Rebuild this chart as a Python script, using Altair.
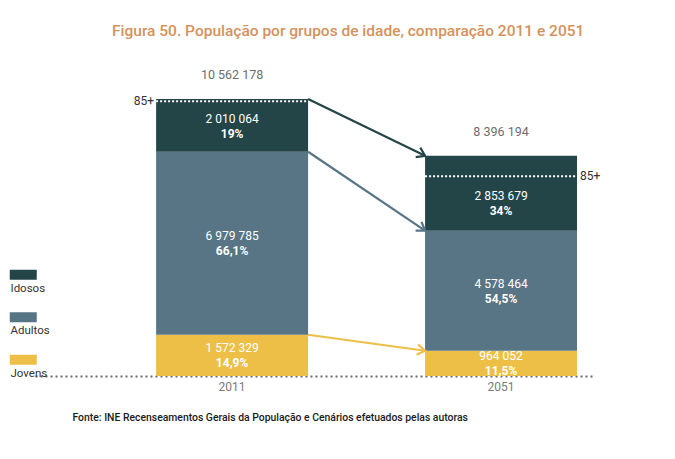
import math
import altair as alt
import pandas as pd

# ---------------- data ----------------
years = ["2011", "2051"]
groups = ["Idosos", "Adultos", "Jovens"]          # legend order, top to bottom
stack_order = {"Jovens": 0, "Adultos": 1, "Idosos": 2}
values_2011 = [2010064, 6979785, 1572329]
values_2051 = [2853679, 4578464, 964052]
pct_2011 = ["19%", "66,1%", "14,9%"]
pct_2051 = ["34%", "54,5%", "11,5%"]
totals = [10562178, 8396194]
line_85 = [10480000, 7620000]                     # level of the dotted "85+" line
colors = ["#244547", "#577585", "#EDBF47"]

TITLE = "Figura 50. População por grupos de idade, comparação 2011 e 2051"
SOURCE = "Fonte: INE Recenseamentos Gerais da População e Cenários efetuados pelas autoras"

FONT = "Roboto"

# ---------------- layout ----------------
W, H = 557, 277
PAD_L, PAD_T = 35, 99
P_IN, P_OUT, ALIGN = 0.435, 0.253, 0.89
YMAX = totals[0]


def fmt(v):
    return f"{v:,}".replace(",", " ")


rows = []
for k, (yr, vals, pcts) in enumerate([(years[0], values_2011, pct_2011),
                                      (years[1], values_2051, pct_2051)]):
    cum = 0
    for g in sorted(groups, key=lambda s: stack_order[s]):
        i = groups.index(g)
        v = vals[i]
        # the oldest group's label sits in the part below the "85+" line
        mid = (cum + line_85[k]) / 2 if g == "Idosos" else cum + v / 2
        rows.append(dict(year=yr, group=g, value=v, order=stack_order[g],
                         top=cum + v, mid=mid, num=fmt(v), pct=pcts[i]))
        cum += v
df = pd.DataFrame(rows)

tot_df = pd.DataFrame({"year": years, "total": totals, "label": [fmt(t) for t in totals]})
l85_df = pd.DataFrame({"year": years, "y": line_85, "label": ["85+", "85+"]})

# arrows from top of each segment in 2011 to top of the same segment in 2051
step = W / (2 - P_IN + 2 * P_OUT)
gap_px = step * P_IN
arr = []
for g in groups:
    a = df[(df.year == years[0]) & (df.group == g)].top.iloc[0]
    b = df[(df.year == years[1]) & (df.group == g)].top.iloc[0]
    dy_px = (a - b) * H / YMAX
    arr.append(dict(group=g, start=years[0], end=years[1], y0=a, y1=b,
                    angle=(math.degrees(math.atan2(dy_px, gap_px)) % 360)))
arr_df = pd.DataFrame(arr)

# ---------------- scales / axes ----------------
xscale = alt.Scale(domain=years, paddingInner=P_IN, paddingOuter=P_OUT, align=ALIGN)
yscale = alt.Scale(domain=[0, YMAX], nice=False, zero=True)
cscale = alt.Scale(domain=groups, range=colors)
xaxis = alt.Axis(title=SOURCE, labelAngle=0, labelColor="#7a7a7a", labelFontSize=12,
                 labelFont=FONT, labelPadding=5, ticks=False,
                 domainColor="#6b6b6b", domainWidth=2, domainDash=[2, 3],
                 titleX=37, titleY=41, titleAlign="left", titleBaseline="middle",
                 titleFont=FONT, titleFontSize=10.4, titleFontWeight=500, titleColor="#1a1a1a")

legend_symbol = "M1,-3.8 L6.4,-3.8 L6.4,-1.8 L1,-1.8 Z"

bars = alt.Chart(df).mark_bar(stroke=None).encode(
    x=alt.X("year:N", scale=xscale, axis=xaxis),
    y=alt.Y("value:Q", stack="zero", scale=yscale, axis=None),
    color=alt.Color("group:N", scale=cscale,
                    legend=alt.Legend(title=None, orient="none", legendX=-36, legendY=184,
                                      symbolType=legend_symbol, symbolSize=100,
                                      symbolStrokeWidth=0, labelOffset=0,
                                      labelFont=FONT, labelFontSize=11.5, labelColor="#333333",
                                      rowPadding=16.5, padding=0)),
    order=alt.Order("order:Q", sort="ascending"),
)

num_text = alt.Chart(df).mark_text(color="white", fontSize=12, font=FONT, dy=-7).encode(
    x=alt.X("year:N", scale=xscale, axis=xaxis),
    y=alt.Y("mid:Q", scale=yscale, axis=None),
    text="num:N",
)
pct_text = alt.Chart(df).mark_text(color="white", fontSize=12, font=FONT,
                                   fontWeight="bold", dy=8).encode(
    x=alt.X("year:N", scale=xscale, axis=xaxis),
    y=alt.Y("mid:Q", scale=yscale, axis=None),
    text="pct:N",
)

tot_text = alt.Chart(tot_df).mark_text(color="#6d6d6d", fontSize=12.5, font=FONT, dy=-24).encode(
    x=alt.X("year:N", scale=xscale, axis=xaxis),
    y=alt.Y("total:Q", scale=yscale, axis=None),
    text="label:N",
)

line85 = alt.Chart(l85_df).mark_rule(color="white", strokeWidth=2, strokeDash=[2, 2]).encode(
    x=alt.X("year:N", scale=xscale, axis=xaxis, bandPosition=0),
    x2=alt.X2("year", bandPosition=1),
    y=alt.Y("y:Q", scale=yscale, axis=None),
)
lab85_left = alt.Chart(l85_df).transform_filter(alt.datum.year == years[0]).mark_text(
    align="right", dx=-2, color="#333333", fontSize=12, font=FONT).encode(
    x=alt.X("year:N", scale=xscale, axis=xaxis, bandPosition=0),
    y=alt.Y("y:Q", scale=yscale, axis=None),
    text="label:N",
)
lab85_right = alt.Chart(l85_df).transform_filter(alt.datum.year == years[1]).mark_text(
    align="left", dx=3, color="#333333", fontSize=12, font=FONT).encode(
    x=alt.X("year:N", scale=xscale, axis=xaxis, bandPosition=1),
    y=alt.Y("y:Q", scale=yscale, axis=None),
    text="label:N",
)

arrow_lines = alt.Chart(arr_df).mark_rule(strokeWidth=2.2).encode(
    x=alt.X("start:N", scale=xscale, axis=xaxis, bandPosition=1),
    x2=alt.X2("end", bandPosition=0),
    y=alt.Y("y0:Q", scale=yscale, axis=None),
    y2="y1:Q",
    stroke=alt.Stroke("group:N", scale=cscale, legend=None),
)
arrow_heads = alt.Chart(arr_df).mark_point(
    shape="M-1.5,-1 L0,0 L-1.5,1", filled=False, strokeWidth=2.2, size=110, opacity=1).encode(
    x=alt.X("end:N", scale=xscale, axis=xaxis, bandPosition=0),
    y=alt.Y("y1:Q", scale=yscale, axis=None),
    angle=alt.Angle("angle:Q", scale=None),
    stroke=alt.Stroke("group:N", scale=cscale, legend=None),
)

chart = alt.layer(
    bars, line85, num_text, pct_text, tot_text, lab85_left, lab85_right, arrow_lines, arrow_heads
).properties(
    width=W, height=H,
    padding={"left": PAD_L, "top": PAD_T, "right": 675 - PAD_L - W, "bottom": 459 - PAD_T - H},
    autosize=alt.AutoSizeParams(type="none"),
    title=alt.TitleParams(TITLE, anchor="start", dx=113, offset=18, fontSize=15.5,
                          font=FONT, fontWeight=500, color="#D4925C", baseline="alphabetic"),
).configure(background="white").configure_view(strokeWidth=0, stroke=None)

chart.save("out.html", embed_options={"renderer": "svg", "actions": False})
